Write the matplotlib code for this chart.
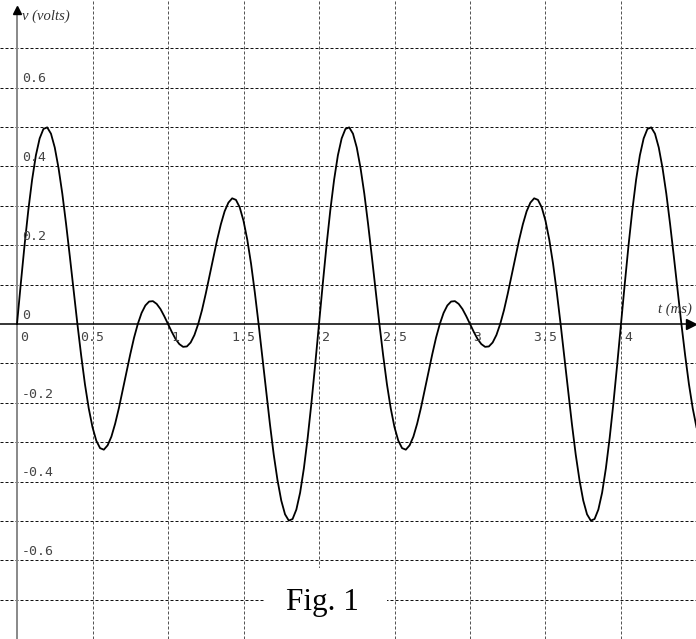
import numpy as np
import matplotlib
matplotlib.use('Agg')
import matplotlib.pyplot as plt
from matplotlib.patches import Rectangle


# samples, one every 0.025 ms starting at t = 0
dt_ms = 0.025
v_volts = [
    0, 0.102, 0.200, 0.289, 0.366, 0.428, 0.471, 0.495, 0.499, 0.483,
    0.448, 0.396, 0.331, 0.254, 0.171, 0.085, 0, -0.080, -0.153, -0.214,
    -0.262, -0.296, -0.315, -0.319, -0.308, -0.286, -0.253, -0.213, -0.168, -0.122,
    -0.077, -0.035, 0, 0.028, 0.047, 0.057, 0.058, 0.051, 0.038, 0.020,
    0, -0.020, -0.038, -0.051, -0.058, -0.057, -0.047, -0.028, 0, 0.035,
    0.077, 0.122, 0.168, 0.213, 0.253, 0.286, 0.308, 0.319, 0.315, 0.296,
    0.262, 0.214, 0.153, 0.080, 0, -0.085, -0.171, -0.254, -0.331, -0.396,
    -0.448, -0.483, -0.499, -0.495, -0.471, -0.428, -0.366, -0.289, -0.200, -0.102,
    # 2 ms
    0, 0.102, 0.200, 0.289, 0.366, 0.428, 0.471, 0.495, 0.499, 0.483,
    0.448, 0.396, 0.331, 0.254, 0.171, 0.085, 0, -0.080, -0.153, -0.214,
    -0.262, -0.296, -0.315, -0.319, -0.308, -0.286, -0.253, -0.213, -0.168, -0.122,
    -0.077, -0.035, 0, 0.028, 0.047, 0.057, 0.058, 0.051, 0.038, 0.020,
    0, -0.020, -0.038, -0.051, -0.058, -0.057, -0.047, -0.028, 0, 0.035,
    0.077, 0.122, 0.168, 0.213, 0.253, 0.286, 0.308, 0.319, 0.315, 0.296,
    0.262, 0.214, 0.153, 0.080, 0, -0.085, -0.171, -0.254, -0.331, -0.396,
    -0.448, -0.483, -0.499, -0.495, -0.471, -0.428, -0.366, -0.289, -0.200, -0.102,
    # 4 ms
    0, 0.102, 0.200, 0.289, 0.366, 0.428, 0.471, 0.495, 0.499, 0.483,
    0.448, 0.396, 0.331, 0.254, 0.171, 0.085, 0, -0.080, -0.153, -0.214,
    -0.262,
]
t_ms = np.arange(len(v_volts)) * dt_ms

x_grid = [0.5, 1.0, 1.5, 2.0, 2.5, 3.0, 3.5, 4.0, 4.5]
y_grid = [-0.7, -0.6, -0.5, -0.4, -0.3, -0.2, -0.1, 0.1, 0.2, 0.3, 0.4, 0.5, 0.6, 0.7]

x_tick_vals = [0, 0.5, 1, 1.5, 2, 2.5, 3, 3.5, 4]
x_tick_labels = ['0', '0.5', '1', '1.5', '2', '2.5', '3', '3.5', '4']
y_tick_vals = [0.6, 0.4, 0.2, 0, -0.2, -0.4, -0.6]
y_tick_labels = ['0.6', '0.4', '0.2', '0', '-0.2', '-0.4', '-0.6']


fig = plt.figure(figsize=(6.96, 6.39), dpi=100)
ax = fig.add_axes([0, 0, 1, 1])
ax.set_xlim(-0.1126, 4.4967)
ax.set_ylim(-0.7995, 0.8223)
ax.axis('off')

# dashed grid
for y in y_grid:
    ax.axhline(y, color='#111111', lw=0.72, dashes=(3, 2), zorder=1)
for x in x_grid:
    ax.axvline(x, color='#555555', lw=0.72, dashes=(3, 2), zorder=1)

# axes with arrow heads
ax.plot([0, 0], [-0.8, 0.80], color='#888888', lw=1.4, zorder=2)
ax.plot([0], [0.797], marker='^', color='k', ms=6, zorder=3)
ax.plot([-0.12, 4.46], [0, 0], color='k', lw=1.1, zorder=2)
ax.plot([4.462], [0], marker='>', color='k', ms=7, zorder=3)

# the trace
ax.plot(t_ms, v_volts, color='k', lw=1.3, zorder=4)

# tick labels
tick_font = dict(fontsize=9.5, family='DejaVu Sans Mono', color='#444444', zorder=5)
for val, lab in zip(y_tick_vals, y_tick_labels):
    ax.text(0.033, val + 0.013, lab, ha='left', va='baseline', **tick_font)
for val, lab in zip(x_tick_vals, x_tick_labels):
    if '.' in lab:
        ax.text(val, -0.043, lab, ha='center', va='baseline', **tick_font)
    else:
        ax.text(val + 0.02, -0.043, lab, ha='left', va='baseline', **tick_font)

ax.text(0.033, 0.78, 'v (volts)', fontsize=10.5, family='Liberation Serif',
        style='italic', color='#333333', ha='left', va='center', zorder=5)
ax.text(4.47, 0.038, 't (ms)', fontsize=10.5, family='Liberation Serif',
        style='italic', color='#333333', ha='right', va='center', zorder=5)

# caption on a white patch
ax.add_patch(Rectangle((1.642, -0.8), 0.808, 0.181, facecolor='white',
                       edgecolor='none', zorder=6))
ax.text(2.02, -0.726, 'Fig. 1', fontsize=22.5, family='Liberation Serif',
        color='k', ha='center', va='baseline', zorder=7)

fig.savefig('out.png', dpi=100)
